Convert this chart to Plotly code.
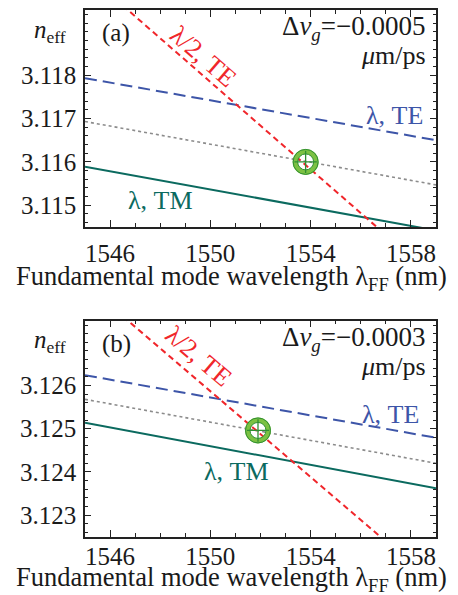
import plotly.graph_objects as go

W, H = 458, 595
OFF = 8            # browser default body margin
FW, FH = W - OFF, H - OFF

# ---------------- data ----------------
wl_ends = [1545.0, 1559.0]            # fundamental-mode wavelength endpoints (nm)

# panel (a)
a_te = [3.11793, 3.11650]             # lambda, TE
a_avg = [3.11693, 3.11547]            # dotted guide
a_tm = [3.11589, 3.11442]             # lambda, TM
a_sh = [3.12036, 3.11331]             # lambda/2, TE
a_pt = (1553.8, 3.11600)              # phase-matching point

# panel (b)
b_te = [3.12624, 3.12479]
b_avg = [3.12568, 3.12420]
b_tm = [3.12514, 3.12362]
b_sh = [3.12835, 3.12140]
b_pt = (1551.9, 3.12496)

a_range = [3.1145, 3.1195]
b_range = [3.1225, 3.1275]
x_range = [1545, 1559]
x_ticks = [1546, 1550, 1554, 1558]
a_yticks = [3.115, 3.116, 3.117, 3.118]
b_yticks = [3.123, 3.124, 3.125, 3.126]
dv_labels = ["\u22120.0005", "\u22120.0003"]

# ---------------- styles ----------------
FONT = "Liberation Serif, DejaVu Serif, serif"
RED = "#f0262b"
BLUE = "#3d55a8"
TEAL = "#0b6a5f"
GRAY = "#8c8c8c"
LG = "#7cc142"
DG = "#2f8f32"

fig = go.Figure()


def add_panel(xa, ya, te, avg, tm, sh, pt):
    kw = dict(xaxis=xa, yaxis=ya, mode="lines", showlegend=False, hoverinfo="skip")
    fig.add_trace(go.Scatter(x=wl_ends, y=avg, line=dict(color=GRAY, width=1.6, dash="dot"), **kw))
    fig.add_trace(go.Scatter(x=wl_ends, y=tm, line=dict(color=TEAL, width=2), **kw))
    fig.add_trace(go.Scatter(x=wl_ends, y=te, line=dict(color=BLUE, width=2, dash="12px,6px"), **kw))
    fig.add_trace(go.Scatter(x=wl_ends, y=sh, line=dict(color=RED, width=2, dash="6px,4px"), **kw))
    mk = dict(xaxis=xa, yaxis=ya, mode="markers", showlegend=False, hoverinfo="skip")
    fig.add_trace(go.Scatter(x=[pt[0]], y=[pt[1]],
                             marker=dict(symbol="circle-open", size=21, color=LG, line=dict(color=LG, width=5)), **mk))
    fig.add_trace(go.Scatter(x=[pt[0]], y=[pt[1]],
                             marker=dict(symbol="circle-open", size=25, color=DG, line=dict(color=DG, width=1)), **mk))
    fig.add_trace(go.Scatter(x=[pt[0]], y=[pt[1]],
                             marker=dict(symbol="circle-open", size=16, color=DG, line=dict(color=DG, width=1)), **mk))
    fig.add_trace(go.Scatter(x=[pt[0]], y=[pt[1]],
                             marker=dict(symbol="cross-thin-open", size=16, color=DG, line=dict(color=DG, width=1.3)), **mk))


add_panel("x", "y", a_te, a_avg, a_tm, a_sh, a_pt)
add_panel("x2", "y2", b_te, b_avg, b_tm, b_sh, b_pt)

tickfont = dict(family=FONT, size=25, color="#1a1a1a")


def xaxis(domain, anchor, standoff):
    return dict(domain=domain, anchor=anchor, range=x_range, tickvals=x_ticks,
                ticks="inside", ticklen=7, tickwidth=1, tickcolor="#222",
                minor=dict(dtick=1, tick0=1545, ticks="inside", ticklen=4, tickwidth=1, tickcolor="#222"),
                showline=True, linecolor="#222", linewidth=1.5, mirror="allticks",
                showgrid=False, zeroline=False, tickfont=tickfont, fixedrange=True,
                ticklabelstandoff=standoff)


def yaxis(domain, anchor, rng, tv):
    return dict(domain=domain, anchor=anchor, range=rng, tickvals=tv,
                ticktext=[f"{v:.3f}" for v in tv],
                ticks="inside", ticklen=6, tickwidth=1, tickcolor="#222",
                minor=dict(dtick=0.0002, tick0=3.1, ticks="inside", ticklen=3, tickwidth=1, tickcolor="#222"),
                showline=True, linecolor="#222", linewidth=1.5, mirror="allticks",
                showgrid=False, zeroline=False, tickfont=tickfont, fixedrange=True,
                ticklabelstandoff=2)


def px(x):
    return (x - OFF) / FW


def py(y):
    return 1 - (y - OFF) / FH


xd = [px(85), px(436)]
fig.update_layout(
    width=FW, height=FH, margin=dict(l=0, r=0, t=0, b=0),
    paper_bgcolor="white", plot_bgcolor="white",
    xaxis=xaxis(xd, "y", 3),
    yaxis=yaxis([py(227), py(10)], "x", a_range, a_yticks),
    xaxis2=xaxis(xd, "y2", -3),
    yaxis2=yaxis([py(536.7), py(320.7)], "x2", b_range, b_yticks),
    font=dict(family=FONT, color="#1a1a1a"),
)

anns = []


def ann(x, y, text, size=24, color="#1a1a1a", xanchor="center", angle=0):
    anns.append(dict(x=px(x), y=py(y), xref="paper", yref="paper", text=text, showarrow=False,
                     xanchor=xanchor, yanchor="middle", textangle=angle,
                     font=dict(family=FONT, size=size, color=color)))


for off, tag, dv in [(0, "(a)", dv_labels[0]), (310.7, "(b)", dv_labels[1])]:
    ann(50, 31 + off, "<i>n</i><sub>eff</sub>", size=25)
    ann(116, 33 + off, tag, size=25)
    ann(428, 28 + off, "\u0394<i>v<sub>g</sub></i>=" + dv, size=27, xanchor="right")
    ann(428, 56 + off, "<i>\u03bc</i>m/ps", size=26, xanchor="right")

ann(394, 115, "\u03bb, TE", color=BLUE, size=26)
ann(160, 200, "\u03bb, TM", color=TEAL, size=26)
ann(203, 57, "\u03bb/2, TE", color=RED, angle=41, size=26)
ann(390, 414, "\u03bb, TE", color=BLUE, size=26)
ann(236, 472, "\u03bb, TM", color=TEAL, size=26)
ann(199, 356, "\u03bb/2, TE", color=RED, angle=40.5, size=26)

ann(231, 278, "Fundamental mode wavelength \u03bb<sub>FF</sub> (nm)", size=26.5)
ann(231, 579, "Fundamental mode wavelength \u03bb<sub>FF</sub> (nm)", size=26.5)

fig.update_layout(annotations=anns)
fig.write_html("out.html")
